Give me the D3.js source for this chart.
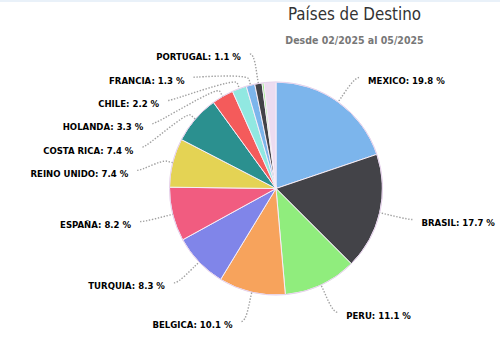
<!DOCTYPE html>
<html>
<head>
<meta charset="utf-8">
<script src="https://cdn.jsdelivr.net/npm/d3@7/dist/d3.min.js"></script>
<style>
  html, body { margin: 0; padding: 0; background: #fff; }
  svg { display: block; }
</style>
</head>
<body>
<div id="chart"></div>
<script>
// Destination countries, share of shipments (%), clockwise from 12 o'clock
const countries = ["MEXICO", "BRASIL", "PERU", "BELGICA", "TURQUIA", "ESPAÑA",
  "REINO UNIDO", "COSTA RICA", "HOLANDA", "CHILE", "FRANCIA", "PORTUGAL",
  "OTROS 1", "OTROS 2"];
const shares = [19.8, 17.7, 11.1, 10.1, 8.3, 8.2, 7.4, 7.4, 3.3, 2.2, 1.3, 1.1, 0.3, 1.8];
const sliceColors = ["#7cb5ec", "#434348", "#90ed7d", "#f7a35c", "#8085e9", "#f15c80",
  "#e4d354", "#2b908f", "#f45b5b", "#91e8e1", "#7cb5ec", "#434348", "#90ed7d", "#ecdcf0"];
// whether each slice carries a data label
const showLabel = [true, true, true, true, true, true, true, true, true, true, true, true, false, false];

const chartTitle = "Países de Destino";
const chartSubtitle = "Desde 02/2025 al 05/2025";

const W = 500, H = 341;
const cx = 276, cy = 188.5, r = 106.5;
const labelDistance = 30, connectorOffset = 6, labelGap = 9, edgeOffset = 3.5;
const lineHeight = 23.3;

const svg = d3.select("#chart").append("svg")
  .attr("width", W).attr("height", H)
  .attr("viewBox", `0 0 ${W} ${H}`);

svg.append("rect").attr("x", 0).attr("y", 0).attr("width", W).attr("height", 2)
  .attr("fill", "#e9f1f9");

svg.append("text")
  .attr("x", 354.5).attr("y", 19.5)
  .attr("text-anchor", "middle")
  .attr("font-family", "'DejaVu Sans Condensed', 'DejaVu Sans', sans-serif")
  .attr("font-size", 16.8)
  .attr("fill", "#333333")
  .text(chartTitle);

svg.append("text")
  .attr("x", 354.5).attr("y", 44)
  .attr("text-anchor", "middle")
  .attr("font-family", "'DejaVu Sans Condensed', 'DejaVu Sans', sans-serif")
  .attr("font-weight", "bold")
  .attr("font-size", 10.5)
  .attr("fill", "#777777")
  .text(chartSubtitle);

const data = countries.map((name, i) => ({ name, value: shares[i], color: sliceColors[i], label: showLabel[i] }));

const pie = d3.pie().sort(null).value(d => d.value);
const arcs = pie(data);
const arc = d3.arc().innerRadius(0).outerRadius(r);

const g = svg.append("g").attr("transform", `translate(${cx},${cy})`);

g.selectAll("path.slice")
  .data(arcs)
  .join("path")
  .attr("class", "slice")
  .attr("d", arc)
  .attr("fill", d => d.data.color)
  .attr("stroke", "#f6eef8")
  .attr("stroke-width", 1);

g.append("circle").attr("r", r).attr("fill", "none")
  .attr("stroke", "#e6d2ec").attr("stroke-width", 1);

// label layout: natural position on a ring outside the pie, then spread vertically
const R = r + labelDistance;
const labelled = arcs.filter(d => d.data.label).map(d => {
  const a = (d.startAngle + d.endAngle) / 2;
  return {
    d, a,
    right: a < Math.PI,
    y: cy - R * Math.cos(a)
  };
});

["left", "right"].forEach(side => {
  const items = labelled.filter(l => (side === "right") === l.right).sort((p, q) => p.y - q.y);
  for (let i = 1; i < items.length; i++) {
    items[i].y = Math.max(items[i].y, items[i - 1].y + lineHeight);
  }
});

labelled.forEach(l => {
  const sgn = l.right ? 1 : -1;
  const dy = Math.max(-R, Math.min(R, l.y - cy));
  const xc = cx + sgn * (Math.sqrt(R * R - dy * dy) + edgeOffset);
  l.xc = xc;
  l.touch = [cx + r * Math.sin(l.a), cy - r * Math.cos(l.a)];
  l.brk = [cx + (r + connectorOffset) * Math.sin(l.a), cy - (r + connectorOffset) * Math.cos(l.a)];
  l.sgn = sgn;
});

const conn = svg.append("g");
conn.selectAll("path")
  .data(labelled)
  .join("path")
  .attr("d", l => {
    const p = d3.path();
    p.moveTo(l.xc, l.y);
    p.bezierCurveTo(l.xc - l.sgn * 5, l.y,
      2 * l.brk[0] - l.touch[0], 2 * l.brk[1] - l.touch[1],
      l.brk[0], l.brk[1]);
    p.lineTo(l.touch[0], l.touch[1]);
    return p.toString();
  })
  .attr("fill", "none")
  .attr("stroke", "#a0a0a0")
  .attr("stroke-width", 1.4)
  .attr("stroke-dasharray", "1.4 1.6");

svg.append("g").selectAll("text")
  .data(labelled)
  .join("text")
  .attr("x", l => l.xc + l.sgn * labelGap)
  .attr("y", l => l.y + 6.5)
  .attr("text-anchor", l => l.right ? "start" : "end")
  .attr("font-family", "'DejaVu Sans Condensed', 'DejaVu Sans', sans-serif")
  .attr("font-weight", "bold")
  .attr("font-size", 9.5)
  .attr("fill", "#000000")
  .text(l => `${l.d.data.name}: ${l.d.data.value.toFixed(1)} %`);
</script>
</body>
</html>
